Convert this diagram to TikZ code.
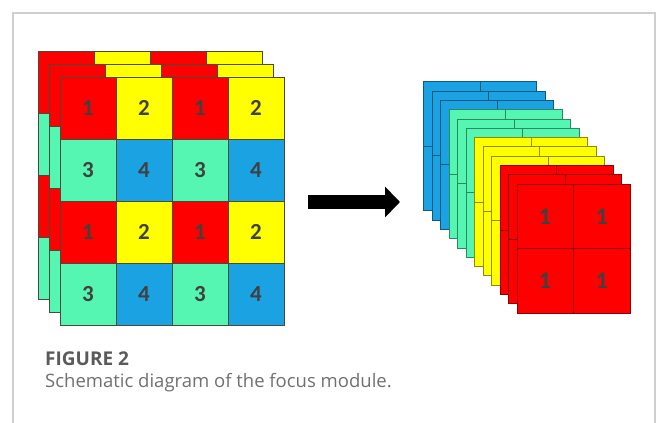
\documentclass[tikz,border=0pt]{standalone}
\usepackage{fontspec}
\setmainfont{Open Sans}
\newfontfamily\digitfont{Carlito}
\usetikzlibrary{arrows.meta}
\definecolor{cred}{HTML}{FF0000}
\definecolor{cyel}{HTML}{FFFF00}
\definecolor{cgrn}{HTML}{55F5B2}
\definecolor{cblu}{HTML}{1AA2E2}
\definecolor{gridline}{HTML}{4A4A3A}
\definecolor{framegray}{HTML}{CFCFCF}
\definecolor{capgray}{HTML}{707070}
\definecolor{figgray}{HTML}{5A5A5A}
\tikzset{
  cellbox/.style={draw=gridline, line width=0.7pt},
  slicebox/.style={line width=0.8pt},
  numtext/.style={font=\digitfont\bfseries\fontsize{23}{23}\selectfont, text=black!75},
  bignum/.style={font=\digitfont\bfseries\fontsize{24}{24}\selectfont, text=black!75},
  frameline/.style={draw=framegray, line width=1.2pt},
  bigarrow/.style={line width=14pt, -{Triangle[length=15pt,width=30pt]}}
}
\begin{document}
\begin{tikzpicture}[x=1pt,y=-1pt]
\useasboundingbox (0,0) rectangle (656,423);
% frame
\draw[frameline] (13,423) -- (13,13) -- (655,13) -- (655,423);
% left stack: three layers, back to front
\foreach \k in {2,1,0}{
  \pgfmathsetmacro{\ox}{60-11*\k}
  \pgfmathsetmacro{\oy}{77-13*\k}
  \foreach \r in {0,1,2,3}{
    \foreach \c in {0,1,2,3}{
      \pgfmathtruncatemacro{\re}{mod(\r,2)}
      \pgfmathtruncatemacro{\ce}{mod(\c,2)}
      \ifnum\re=0
        \ifnum\ce=0 \def\cc{cred}\else\def\cc{cyel}\fi
      \else
        \ifnum\ce=0 \def\cc{cgrn}\else\def\cc{cblu}\fi
      \fi
      \filldraw[cellbox, fill=\cc] (\ox+56*\c,\oy+62*\r) rectangle ++(56,62);
    }
  }
}
% numbers on front layer
\foreach \r/\ra in {0/a,1/b,2/c,3/d}{
  \foreach \c in {0,1,2,3}{
    \pgfmathtruncatemacro{\re}{mod(\r,2)}
    \pgfmathtruncatemacro{\ce}{mod(\c,2)}
    \pgfmathtruncatemacro{\nn}{1+\ce+2*\re}
    \node[numtext] (n\ra\c) at (60+56*\c+28, 77+62*\r+31) {\nn};
  }
}
% arrow
\coordinate (atail) at (308,202);
\coordinate (ahead) at (400,202);
\draw[bigarrow] (atail) -- (ahead);
% right stack: twelve slices
\foreach \i/\cc in {0/cblu,1/cblu,2/cblu,3/cgrn,4/cgrn,5/cgrn,6/cyel,7/cyel,8/cyel,9/cred,10/cred,11/cred}{
  \pgfmathsetmacro{\sx}{517-8.5*(11-\i)}
  \pgfmathsetmacro{\sy}{184-9.3*(11-\i)}
  \filldraw[slicebox, fill=\cc, draw=\cc!55!black] (\sx,\sy) rectangle ++(113,129);
  \draw[slicebox, draw=\cc!55!black] (\sx+56.5,\sy) -- ++(0,129);
  \draw[slicebox, draw=\cc!55!black] (\sx,\sy+64.5) -- ++(113,0);
}
\node[bignum] (r1) at (545,217) {1};
\node[bignum] (r2) at (602,217) {1};
\node[bignum] (r3) at (545,281) {1};
\node[bignum] (r4) at (602,281) {1};
% caption
\node[anchor=base west, inner sep=0pt, text=figgray, font=\bfseries\fontsize{19}{19}\selectfont] (figlabel) at (45,365) {FIGURE 2};
\node[anchor=base west, inner sep=0pt, text=capgray, font=\fontsize{18.5}{19}\selectfont] (caption) at (45,387) {Schematic diagram of the focus module.};
\end{tikzpicture}
\end{document}
